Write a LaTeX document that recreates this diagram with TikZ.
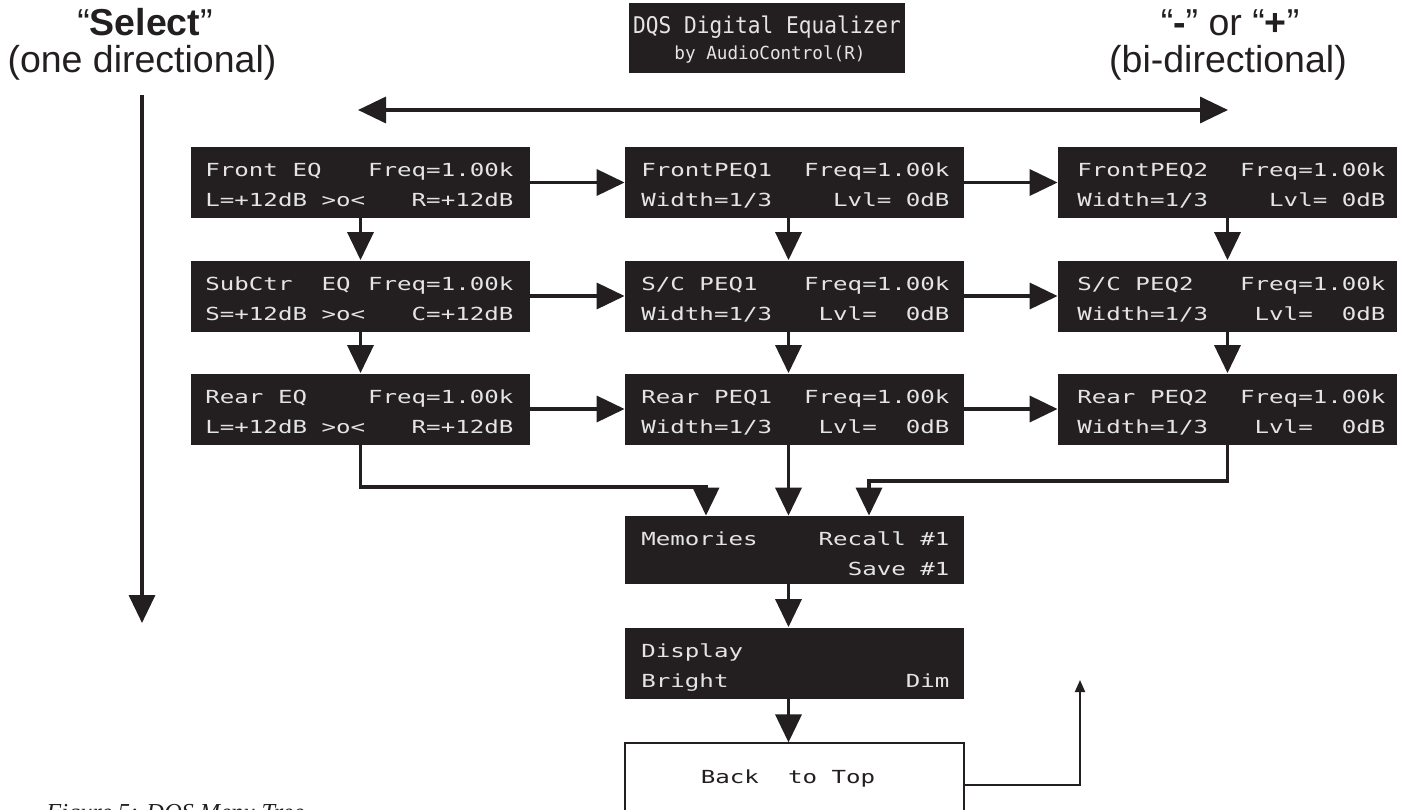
\documentclass[tikz,border=0pt]{standalone}
\usepackage{fontspec}
\setmainfont{Liberation Serif}
\newfontfamily\headfont{Liberation Sans}
\newfontfamily\lcdfont[FakeStretch=1.34]{DejaVu Sans Mono}
\newfontfamily\ttlfonta[FakeStretch=0.92]{DejaVu Sans Mono}
\newfontfamily\ttlfontb[FakeStretch=0.98]{DejaVu Sans Mono}
\usetikzlibrary{arrows.meta,calc}
\definecolor{ink}{HTML}{231F20}
\definecolor{lcdtxt}{HTML}{E4E4E4}
\begin{document}
\begin{tikzpicture}[x=0.5pt,y=-0.5pt,
  lcdbox/.style={fill=ink, draw=none, minimum width=169.5pt, minimum height=35.5pt, inner sep=0pt},
  lcdline/.style={text=lcdtxt, font=\lcdfont\fontsize{9pt}{11pt}\selectfont, inner sep=0pt, anchor=base west},
  head/.style={text=ink, font=\headfont\fontsize{18.75pt}{22pt}\selectfont, inner sep=0pt, anchor=base},
  flow/.style={draw=ink, line width=1.75pt, -{Triangle[length=14pt,width=13pt]}},
  biflow/.style={draw=ink, line width=1.75pt, {Triangle[length=14pt,width=13pt]}-{Triangle[length=14pt,width=13pt]}},
  thinflow/.style={draw=ink, line width=1pt, -{Triangle[length=6pt,width=5pt]}},
]
\useasboundingbox (0,0) rectangle (1403,809);

% headings
\node[head] (hsel) at (145,35) {“\textbf{Select}”};
\node[head] (hone) at (142,72) {(one directional)};
\node[head] (hpm) at (1230,35) {“\textbf{-}” or “\textbf{+}”};
\node[head] (hbi) at (1228,72) {(bi-directional)};

% title box
\node[fill=ink, minimum width=138pt, minimum height=35pt, inner sep=0pt] (ttl) at (767,38) {};
\node[text=lcdtxt, font=\ttlfonta\fontsize{11.5pt}{13pt}\selectfont, inner sep=0pt, anchor=base] (ttla) at (767,33) {DQS Digital Equalizer};
\node[text=lcdtxt, font=\ttlfontb\fontsize{9pt}{11pt}\selectfont, inner sep=0pt, anchor=base] (ttlb) at (770,59) {by AudioControl(R)};

% arrows top and left
\coordinate (bl) at (358,110);
\coordinate (br) at (1228,110);
\draw[biflow] (bl) -- (br);
\coordinate (sa) at (142,95);
\coordinate (sb) at (142,623);
\draw[flow] (sa) -- (sb);

% boxes
\node[lcdbox] (b11) at (360.5,182.5) {};
\node[lcdbox] (b12) at (794.5,182.5) {};
\node[lcdbox] (b13) at (1227.5,182.5) {};
\node[lcdbox] (b21) at (360.5,296) {};
\node[lcdbox] (b22) at (794.5,296) {};
\node[lcdbox] (b23) at (1227.5,296) {};
\node[lcdbox] (b31) at (360.5,409) {};
\node[lcdbox] (b32) at (794.5,409) {};
\node[lcdbox] (b33) at (1227.5,409) {};
\node[lcdbox, minimum height=34pt] (mem) at (794.5,550) {};
\node[lcdbox] (disp) at (794.5,663) {};
\node[draw=ink, line width=0.6pt, fill=white, minimum width=169.5pt, minimum height=42pt, inner sep=0pt] (back) at (794.5,785) {};

% texts col 1
\node[lcdline] (t11a) at (205,176) {\makebox[154pt]{Front EQ\hfill Freq=1.00k}};
\node[lcdline] (t11b) at (205,206) {\makebox[154pt]{L=+12dB >o<\hfill R=+12dB}};
\node[lcdline] (t21a) at (205,290) {\makebox[154pt]{SubCtr\ \ EQ\hfill Freq=1.00k}};
\node[lcdline] (t21b) at (205,320) {\makebox[154pt]{S=+12dB >o<\hfill C=+12dB}};
\node[lcdline] (t31a) at (205,403) {\makebox[154pt]{Rear EQ\hfill Freq=1.00k}};
\node[lcdline] (t31b) at (205,433) {\makebox[154pt]{L=+12dB >o<\hfill R=+12dB}};
% texts col 2
\node[lcdline] (t12a) at (641,176) {\makebox[154pt]{FrontPEQ1\hfill Freq=1.00k}};
\node[lcdline] (t12b) at (641,206) {\makebox[154pt]{Width=1/3\hfill Lvl= 0dB}};
\node[lcdline] (t22a) at (641,290) {\makebox[154pt]{S/C PEQ1\hfill Freq=1.00k}};
\node[lcdline] (t22b) at (641,320) {\makebox[154pt]{Width=1/3\hfill Lvl=\ \ 0dB}};
\node[lcdline] (t32a) at (641,403) {\makebox[154pt]{Rear PEQ1\hfill Freq=1.00k}};
\node[lcdline] (t32b) at (641,433) {\makebox[154pt]{Width=1/3\hfill Lvl=\ \ 0dB}};
% texts col 3
\node[lcdline] (t13a) at (1077,176) {\makebox[154pt]{FrontPEQ2\hfill Freq=1.00k}};
\node[lcdline] (t13b) at (1077,206) {\makebox[154pt]{Width=1/3\hfill Lvl= 0dB}};
\node[lcdline] (t23a) at (1077,290) {\makebox[154pt]{S/C PEQ2\hfill Freq=1.00k}};
\node[lcdline] (t23b) at (1077,320) {\makebox[154pt]{Width=1/3\hfill Lvl=\ \ 0dB}};
\node[lcdline] (t33a) at (1077,403) {\makebox[154pt]{Rear PEQ2\hfill Freq=1.00k}};
\node[lcdline] (t33b) at (1077,433) {\makebox[154pt]{Width=1/3\hfill Lvl=\ \ 0dB}};
% memories, display, back
\node[lcdline] (tma) at (641,545) {\makebox[154pt]{Memories\hfill Recall \#1}};
\node[lcdline] (tmb) at (641,575) {\makebox[154pt]{\hfill Save \#1}};
\node[lcdline] (tda) at (641,657) {\makebox[154pt]{Display\hfill}};
\node[lcdline] (tdb) at (641,687) {\makebox[154pt]{Bright\hfill Dim}};
\node[text=ink, font=\lcdfont\fontsize{9pt}{11pt}\selectfont, inner sep=0pt, anchor=base] (tback) at (788,783) {Back\ \ to Top};

% horizontal flows
\draw[flow] (b11) -- (b12);
\draw[flow] (b12) -- (b13);
\draw[flow] (b21) -- (b22);
\draw[flow] (b22) -- (b23);
\draw[flow] (b31) -- (b32);
\draw[flow] (b32) -- (b33);
% vertical flows
\draw[flow] (b11.south) -- (b21.north);
\draw[flow] (b21.south) -- (b31.north);
\draw[flow] ([xshift=-3pt]b12.south) -- ([xshift=-3pt]b22.north);
\draw[flow] ([xshift=-3pt]b22.south) -- ([xshift=-3pt]b32.north);
\draw[flow] (b13.south) -- (b23.north);
\draw[flow] (b23.south) -- (b33.north);
% merge into memories
\coordinate (j1) at (706,487);
\coordinate (j2) at (869,481);
\draw[flow] (b31.south) |- (j1) -- (j1 |- mem.north);
\draw[flow] ([xshift=-3pt]b32.south) -- ([xshift=-3pt]mem.north);
\draw[flow] (b33.south) |- (j2) -- (j2 |- mem.north);
\draw[flow] ([xshift=-3pt]mem.south) -- ([xshift=-3pt]disp.north);
\draw[flow] ([xshift=-3pt]disp.south) -- ([xshift=-3pt]back.north);
% return
\coordinate (ret) at (1080,680);
\draw[thinflow] (back.east) -| (ret);

% caption (cut off by the lower edge, as in the reference)
\node[anchor=base west, inner sep=0pt, font=\itshape\fontsize{12.2pt}{14pt}\selectfont, text=ink] (cap) at (46,820) {Figure 5: DQS Menu Tree};
\end{tikzpicture}
\end{document}
